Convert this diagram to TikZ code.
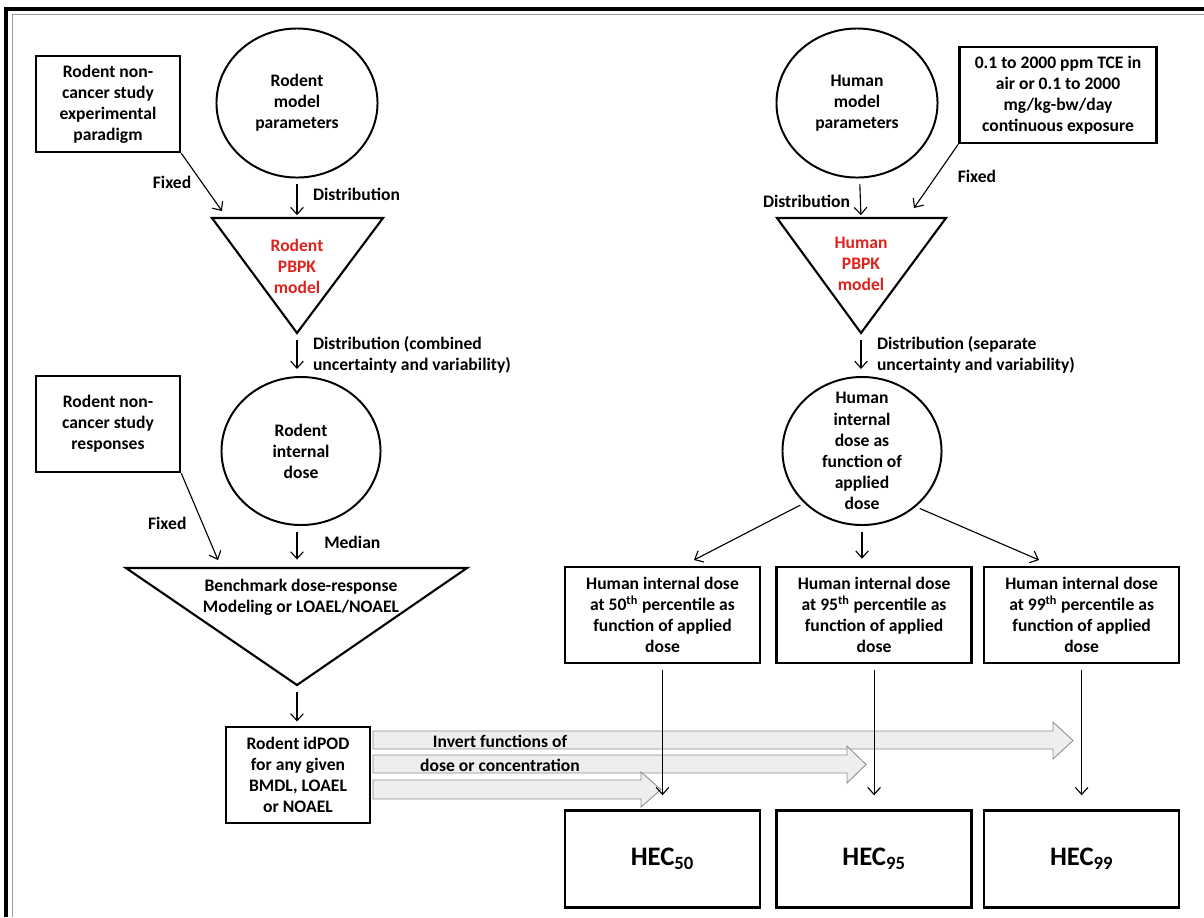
\documentclass[tikz,border=0pt]{standalone}
\usepackage{fontspec}
\setmainfont{Carlito}
\usetikzlibrary{positioning, shapes.geometric, arrows.meta}

\newcommand{\flowfont}{\fontsize{12.5}{15}\selectfont\bfseries}
\newcommand{\hecfont}{\fontsize{19}{23}\selectfont\bfseries}
\definecolor{pbpkred}{RGB}{222,34,30}
\definecolor{bandfill}{RGB}{238,238,238}

\tikzset{
  every node/.style={text=black, font=\flowfont, align=center, inner sep=1pt},
  every path/.style={line width=0.8pt},
  >={Straight Barb[length=5pt, width=9pt]},
  box/.style={draw=black, line width=1.8pt, minimum height=2.4cm},
  bubble/.style={draw=black, ellipse, line width=1.4pt},
  wedge/.style={draw=black, line width=1.5pt, line join=miter},
  tag/.style={draw=none, fill=none},
  band/.style={draw=black!45, fill=bandfill, line width=0.6pt}
}

\begin{document}
\begin{tikzpicture}[x=0.025cm, y=-0.025cm, node distance=0.35cm]
  \useasboundingbox (0,0) rectangle (1204,917);
  % Frame
  \draw[line width=3pt] (6,917) -- (6,9) -- (1204,9);
  \draw[black!40, line width=0.6pt] (12.5,917) -- (12.5,14) -- (1204,14);

  % Rodent side
  \node (rparadigm) [box, minimum width=3.6cm] at (108,104) {Rodent non-\\cancer study\\experimental\\paradigm};
  \node (rparams) [bubble, minimum width=4.025cm, minimum height=3.725cm] at (297,103) {};
  \node (rparams text) [tag] at (rparams) {Rodent\\model\\parameters};
  \draw[wedge] (212,218) -- (383,218) -- (297,333) -- cycle;
  \coordinate (rpbpk top) at (297,218);
  \coordinate (rpbpk tip) at (297,333);
  \coordinate (rfixed tip) at (222,211);
  \node (rpbpk) [tag, text=pbpkred] at (297,266) {Rodent\\PBPK\\model};
  \node (rresp) [box, minimum width=3.6cm] at (108,424) {Rodent non-\\cancer study\\responses};
  \node (rdose) [bubble, minimum width=3.975cm, minimum height=3.7cm] at (301,451) {};
  \node (rdose text) [tag] at (rdose) {Rodent\\internal\\dose};
  \draw[wedge] (126,568) -- (467,568) -- (297,685) -- cycle;
  \coordinate (bmd top) at (297,568);
  \coordinate (bmd tip) at (297,685);
  \coordinate (bfixed tip) at (218,560);
  \node (bmd) [tag] at (301,597) {Benchmark dose-response\\Modeling or LOAEL/NOAEL};
  \node (idpod) [box, minimum width=3.6cm] at (298,775) {Rodent idPOD\\for any given\\BMDL, LOAEL\\or NOAEL};

  % Human side
  \node (hparams) [bubble, minimum width=4.025cm, minimum height=3.725cm] at (857,103) {};
  \node (hparams text) [tag] at (hparams) {Human\\model\\parameters};
  \node (hexpo) [box, minimum width=4.925cm] at (1058,95) {0.1 to 2000 ppm TCE in\\air or 0.1 to 2000\\mg/kg-bw/day\\continuous exposure};
  \draw[wedge] (777,218) -- (946,218) -- (861,333) -- cycle;
  \coordinate (hpbpk top) at (861,218);
  \coordinate (hpbpk tip) at (861,333);
  \coordinate (hfixed tip) at (914,208);
  \node (hpbpk) [tag, text=pbpkred] at (861,264) {Human\\PBPK\\model};
  \node (hdose) [bubble, minimum width=3.975cm, minimum height=3.7cm] at (862,451) {};
  \node (hdose text) [tag] at (hdose) {Human\\internal\\dose as\\function of\\applied\\dose};
  \node (p50) [box, minimum width=4.875cm] at (662.5,615) {Human internal dose\\at 50\textsuperscript{th} percentile as\\function of applied\\dose};
  \node (p95) [box, minimum width=4.875cm, right=of p50] {Human internal dose\\at 95\textsuperscript{th} percentile as\\function of applied\\dose};
  \node (p99) [box, minimum width=4.875cm, right=0.25cm of p95] {Human internal dose\\at 99\textsuperscript{th} percentile as\\function of applied\\dose};
  \node (hec50) [box, minimum width=4.875cm, minimum height=2.425cm, below=3.625cm of p50, font=\hecfont] {HEC\textsubscript{50}};
  \node (hec95) [box, minimum width=4.875cm, minimum height=2.425cm, below=3.625cm of p95, font=\hecfont] {HEC\textsubscript{95}};
  \node (hec99) [box, minimum width=4.875cm, minimum height=2.425cm, below=3.625cm of p99, font=\hecfont] {HEC\textsubscript{99}};
  \coordinate (p50 in) at (694,560);
  \coordinate (p99 in) at (1039,560);

  % Inversion bands
  \draw[band] (373,731) -- (1053,731) -- (1053,722) -- (1073,740.5) -- (1053,759) -- (1053,749) -- (373,749) -- cycle;
  \draw[band] (373,755) -- (847,755) -- (847,746) -- (866,764.5) -- (847,783) -- (847,773) -- (373,773) -- cycle;
  \draw[band] (373,780) -- (641,780) -- (641,772) -- (661,789.5) -- (641,807) -- (641,799) -- (373,799) -- cycle;
  \node (invert a) [tag] at (500,741) {Invert functions of};
  \node (invert b) [tag] at (500,765) {dose or concentration};

  % Connectors
  \draw[->] (rparadigm.south east) -- node[midway, left, tag, xshift=-6pt] {Fixed} (rfixed tip);
  \draw[->, shorten <=4pt, shorten >=2pt] (rparams) -- node[midway, right, tag, xshift=10pt, yshift=3pt] {Distribution} (rpbpk top);
  \draw[->, shorten <=5pt, shorten >=5pt] (rpbpk tip) -- node[midway, right, tag, xshift=10pt, align=left] {Distribution (combined\\uncertainty and variability)} (rpbpk tip |- rdose.north);
  \draw[->] (rresp.south east) -- node[midway, left, tag, xshift=-8pt, yshift=-5pt] {Fixed} (bfixed tip);
  \draw[->, shorten <=4pt, shorten >=6pt] (bmd top |- rdose.south) -- node[midway, right, tag, xshift=18pt, yshift=3pt] {Median} (bmd top);
  \draw[->, shorten <=5pt, shorten >=3pt] (bmd tip) -- (bmd tip |- idpod.north);
  \draw[->, shorten <=4pt, shorten >=2pt] (hparams) -- node[midway, left, tag, xshift=-6pt, yshift=-2pt] {Distribution} (hpbpk top);
  \draw[->] (hexpo.south west) -- node[midway, right, tag, xshift=14pt] {Fixed} (hfixed tip);
  \draw[->, shorten <=5pt, shorten >=5pt] (hpbpk tip) -- node[midway, right, tag, xshift=10pt, align=left] {Distribution (separate\\uncertainty and variability)} (hpbpk tip |- hdose.north);
  \draw[->, shorten <=3pt] (hdose.222) -- (p50 in);
  \draw[->, shorten <=4pt, shorten >=5pt] (hdose) -- (hdose |- p95.north);
  \draw[->, shorten <=3pt] (hdose.314) -- (p99 in);
  \draw[->, shorten <=4pt, shorten >=10pt] (p50) -- (hec50);
  \draw[->, shorten <=4pt, shorten >=10pt] (p95) -- (hec95);
  \draw[->, shorten <=4pt, shorten >=10pt] (p99) -- (hec99);
\end{tikzpicture}
\end{document}
